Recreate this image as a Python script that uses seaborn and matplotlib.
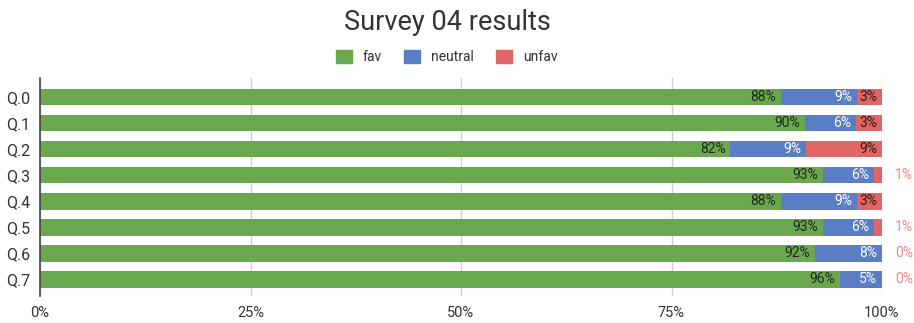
import matplotlib
matplotlib.use("Agg")
import matplotlib.pyplot as plt
from matplotlib.patches import Patch
import seaborn as sns
import pandas as pd
import numpy as np

# Survey answers per question (percent labels as reported)
questions = ["Q.0", "Q.1", "Q.2", "Q.3", "Q.4", "Q.5", "Q.6", "Q.7"]
fav = [88, 90, 82, 93, 88, 93, 92, 96]
neutral = [9, 6, 9, 6, 9, 6, 8, 5]
unfav = [3, 3, 9, 1, 3, 1, 0, 0]

series_names = ["fav", "neutral", "unfav"]
xtick_labels = ["0%", "25%", "50%", "75%", "100%"]

GREEN = "#6aa84f"
BLUE = "#5a7ec6"
RED = "#e06666"

sns.set_theme(style="white")
plt.rcParams["font.family"] = ["Roboto", "DejaVu Sans"]

df = pd.DataFrame({"question": questions, "fav": fav,
                   "neutral": neutral, "unfav": unfav})
total = df[["fav", "neutral", "unfav"]].sum(axis=1)
# 100% stacked: each row is scaled to its own total
df["fav_share"] = df["fav"] / total * 100
df["neutral_share"] = df["neutral"] / total * 100
df["unfav_share"] = df["unfav"] / total * 100
df["end_fav"] = df["fav_share"]
df["end_neutral"] = df["fav_share"] + df["neutral_share"]
df["end_unfav"] = df["end_neutral"] + df["unfav_share"]

fig = plt.figure(figsize=(9.14, 3.23), dpi=100)
ax = fig.add_axes([40 / 914, 1 - 296 / 323, 842 / 914, 218 / 323])

bar_w = 0.65
for col, colour in [("end_unfav", RED), ("end_neutral", BLUE), ("end_fav", GREEN)]:
    sns.barplot(data=df, x=col, y="question", color=colour, orient="h",
                width=bar_w, ax=ax, saturation=1, linewidth=0)

ax.set_xlim(0, 100)
ax.set_ylim(7.65, -0.73)
ax.set_xlabel("")
ax.set_ylabel("")
ax.set_xticks([0, 25, 50, 75, 100])
ax.set_xticklabels(xtick_labels)
ax.tick_params(axis="x", length=0, pad=7, labelsize=10.5, colors="#333333")
ax.tick_params(axis="y", length=0, pad=7, labelsize=11.5, colors="#333333")

ax.grid(axis="x", color="#d0d0d0", linewidth=1)
ax.set_axisbelow(True)
for side in ["top", "right", "bottom"]:
    ax.spines[side].set_visible(False)
ax.spines["left"].set_color("#444444")
ax.spines["left"].set_linewidth(1.2)
ax.spines["left"].set_zorder(5)

# Segment value labels
lab_fs = 10
for i, row in df.iterrows():
    ax.annotate(f"{row['fav']}%", (row["end_fav"], i), xytext=(-3.5, 0),
                textcoords="offset points", ha="right", va="center",
                fontsize=lab_fs, color="#1f2a1a")
    ax.annotate(f"{row['neutral']}%", (row["end_neutral"], i), xytext=(-3.5, 0),
                textcoords="offset points", ha="right", va="center",
                fontsize=lab_fs, color="white")
    if row["unfav"] >= 2:
        ax.annotate(f"{row['unfav']}%", (row["end_unfav"], i), xytext=(-3.5, 0),
                    textcoords="offset points", ha="right", va="center",
                    fontsize=lab_fs, color="#3a1515")
    else:
        ax.annotate(f"{row['unfav']}%", (row["end_unfav"], i), xytext=(9.5, 0),
                    textcoords="offset points", ha="left", va="center",
                    fontsize=lab_fs, color="#e88a8a", annotation_clip=False)

fig.text(0.489, 1 - 22 / 323, "Survey 04 results", ha="center", va="center",
         fontsize=19.5, color="#333333")

handles = [Patch(facecolor=c, edgecolor=c, label=n)
           for c, n in zip([GREEN, BLUE, RED], series_names)]
fig.legend(handles=handles, loc="center", bbox_to_anchor=(0.489, 1 - 57 / 323),
           ncol=3, frameon=False, fontsize=10, handlelength=1.15,
           handleheight=1.15, handletextpad=0.8, columnspacing=1.6,
           labelcolor="#333333")

fig.savefig("out.png", dpi=100)
